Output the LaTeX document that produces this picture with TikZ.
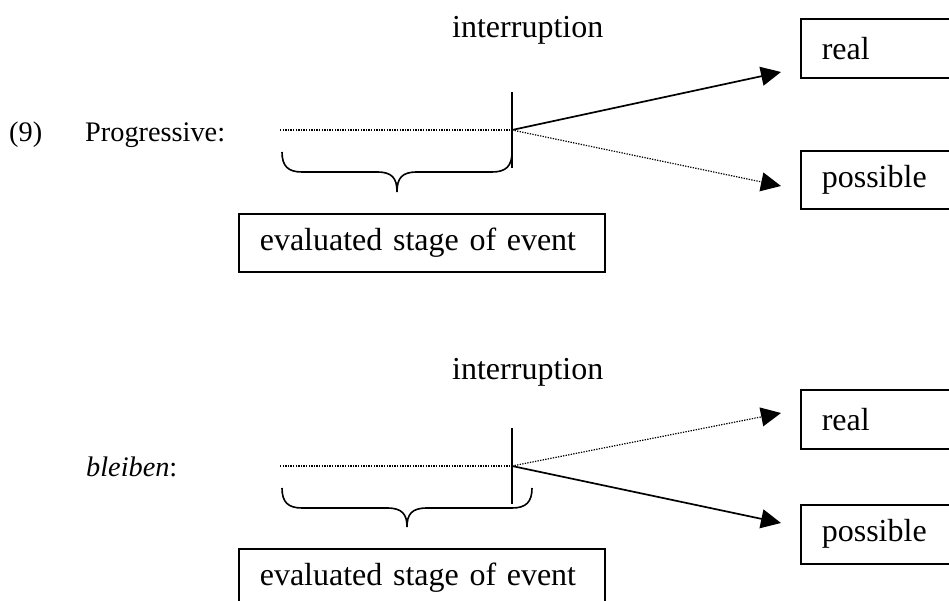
\documentclass[tikz,border=0pt]{standalone}
\usepackage{fontspec}
\setmainfont{Liberation Serif}
\usetikzlibrary{arrows.meta}
\begin{document}
\begin{tikzpicture}[x=1pt,y=-1pt,
  lbl/.style={inner sep=0pt, anchor=base west, font=\fontsize{32}{38}\selectfont},
  smalllbl/.style={inner sep=0pt, anchor=base west, font=\fontsize{28.3}{34}\selectfont},
  box/.style={draw, line width=1.6pt, inner ysep=0pt, inner xsep=21pt, anchor=north west, align=left, font=\fontsize{32}{38}\selectfont},
  tipstyle/.style={-{Triangle[length=20pt,width=19pt]}},
  solidline/.style={line width=1.7pt},
  dotline/.style={line width=1.2pt, dash pattern=on 1.3pt off 1.3pt},
  brace/.style={line width=1.6pt}]
\useasboundingbox (0,0) rectangle (949,601);

% ---------- top diagram ----------
\node[smalllbl] (num) at (9,142) {(9)};
\node[smalllbl] (prog) at (85,142) {Progressive:};
\node[lbl] (int1) at (452,38) {interruption};

\node[box, text width=150pt, minimum height=59pt] (real1) at (800,18) {real};
\node[box, text width=150pt, minimum height=58pt] (poss1) at (800,150) {possible};
\node[box, text width=324pt, minimum height=58pt] (eval1) at (238,213) {evaluated stage of event};

\coordinate (s1) at (280,130);
\coordinate (t1) at (512,130);
\coordinate (v1a) at (512,92);
\coordinate (v1b) at (512,168);
\coordinate (r1) at (781,72);
\coordinate (p1) at (781,186);

\draw[dotline] (s1) -- (t1);
\draw[solidline] (v1a) -- (v1b);
\draw[solidline, tipstyle] (t1) -- (r1);
\draw[dotline, tipstyle] (t1) -- (p1);
\draw[brace] (282,152) .. controls (282,166) and (288,172) .. (302,172) -- (377,172)
  .. controls (392,172) and (397,178) .. (397,192)
  .. controls (397,178) and (402,172) .. (417,172) -- (492,172)
  .. controls (506,172) and (512,166) .. (512,152);

% ---------- bottom diagram ----------
\node[smalllbl] (bl) at (86,476) {\textit{bleiben}:};
\node[lbl] (int2) at (452,379) {interruption};

\node[box, text width=150pt, minimum height=59pt] (real2) at (800,389) {real};
\node[box, text width=150pt, minimum height=59pt] (poss2) at (800,504) {possible};
\node[box, text width=324pt, minimum height=58pt] (eval2) at (238,548) {evaluated stage of event};

\coordinate (s2) at (280,466);
\coordinate (t2) at (512,466);
\coordinate (v2a) at (512,428);
\coordinate (v2b) at (512,504);
\coordinate (r2) at (781,413);
\coordinate (p2) at (781,523);

\draw[dotline] (s2) -- (t2);
\draw[solidline] (v2a) -- (v2b);
\draw[dotline, tipstyle] (t2) -- (r2);
\draw[solidline, tipstyle] (t2) -- (p2);
\draw[brace] (282,488) .. controls (282,502) and (288,508) .. (302,508) -- (387,508)
  .. controls (402,508) and (407,514) .. (407,527)
  .. controls (407,514) and (412,508) .. (427,508) -- (512,508)
  .. controls (526,508) and (532,502) .. (532,488);
\end{tikzpicture}
\end{document}
